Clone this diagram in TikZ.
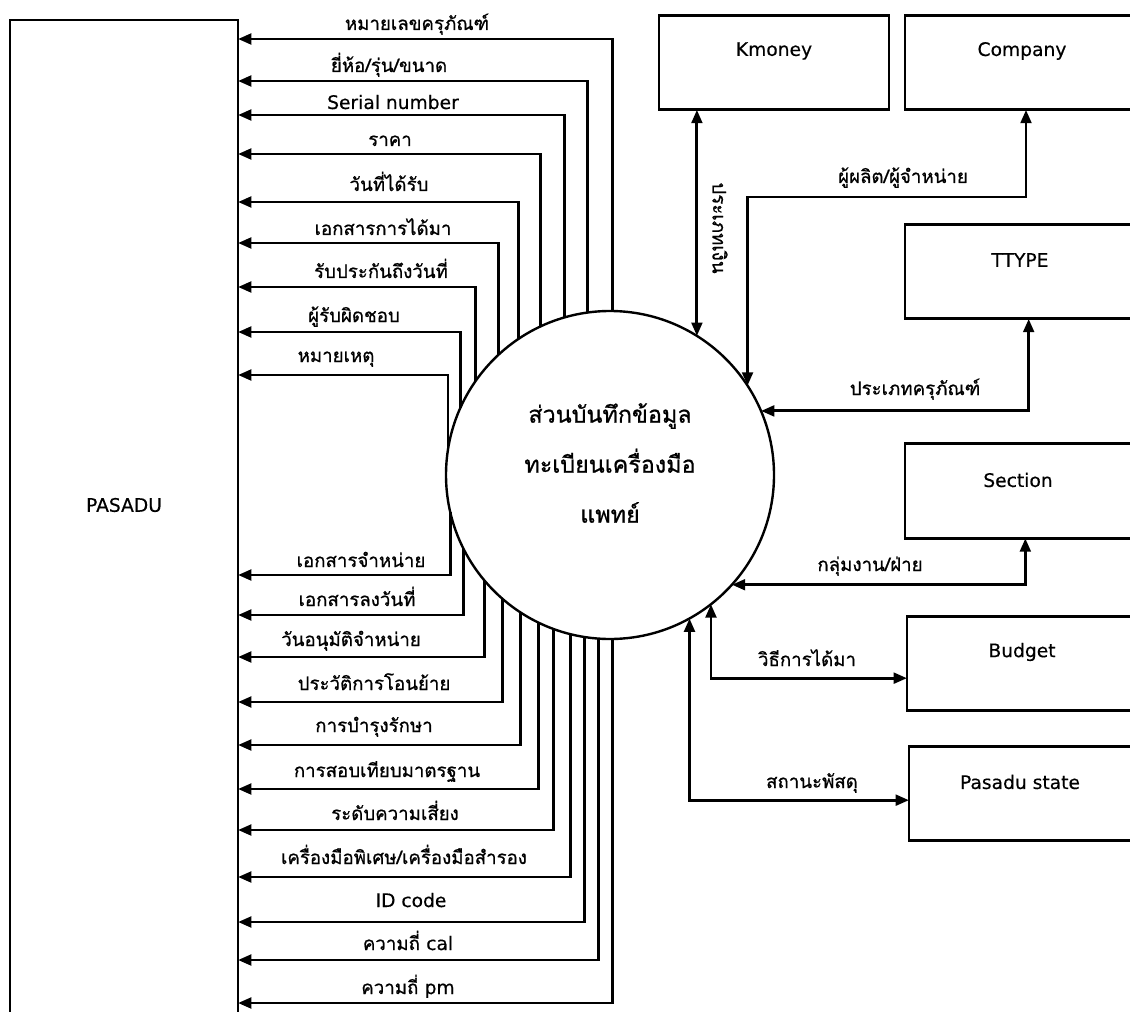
\documentclass[tikz,border=0pt]{standalone}
\usepackage{fontspec}
\setmainfont[Script=Thai,FakeBold=0.8]{Loma}
\newfontfamily\latfont[FakeBold=0.4]{DejaVu Sans}
\usetikzlibrary{arrows.meta}

\tikzset{every picture/.style={line width=2.2pt}}
\tikzset{
  entity/.style={draw, rectangle, minimum width=172.5pt, minimum height=71pt, inner sep=0pt, outer sep=0pt},
  flow/.style={-{Triangle[length=10pt,width=8pt]}},
  dflow/.style={{Triangle[length=10pt,width=8pt]}-{Triangle[length=10pt,width=8pt]}},
  lbl/.style={inner sep=0.75pt, font=\fontsize{14}{16}\selectfont},
  flowlbl/.style={lbl, anchor=base},
}

\begin{document}
\begin{tikzpicture}[x=0.75pt,y=0.75pt,yscale=-1,xscale=1]
\clip (0,0) rectangle (1130,1012);

%Shape: Rectangle [PASADU]
\node[entity, anchor=north west, minimum width=171pt, minimum height=765pt] (pasadu) at (10,20) {};
%Shape: Circle
\node[draw, circle, minimum size=246pt, inner sep=0pt, outer sep=0pt, line width=1.8pt] (circ) at (610,475) {};
%Shape: Rectangle
\node[entity] (kmoney) at (774,62.5) {};
%Shape: Rectangle
\node[entity] (company) at (1020,62.5) {};
%Shape: Rectangle
\node[entity] (ttype) at (1020,271.5) {};
%Shape: Rectangle
\node[entity] (section) at (1020,491) {};
%Shape: Rectangle
\node[entity] (budget) at (1022,663.5) {};
%Shape: Rectangle
\node[entity] (pstate) at (1024,793.5) {};

%Straight Lines
\draw[flow] (circ.89.3) |- (pasadu.east |- 0,39);
\draw[flow] (circ.98.1) |- (pasadu.east |- 0,81);
\draw[flow] (circ.106.7) |- (pasadu.east |- 0,115);
\draw[flow] (circ.115.3) |- (pasadu.east |- 0,154);
\draw[flow] (circ.124.1) |- (pasadu.east |- 0,202);
\draw[flow] (circ.133.6) |- (pasadu.east |- 0,243);
\draw[flow] (circ.145.4) |- (pasadu.east |- 0,287);
\draw[flow] (circ.156.2) |- (pasadu.east |- 0,332);
\draw[flow] (circ.171.1) |- (pasadu.east |- 0,375);
%Straight Lines
\draw[flow] (circ.-167.4) |- (pasadu.east |- 0,575);
\draw[flow] (circ.-153.6) |- (pasadu.east |- 0,615);
\draw[flow] (circ.-140.7) |- (pasadu.east |- 0,657);
\draw[flow] (circ.-131.2) |- (pasadu.east |- 0,702);
\draw[flow] (circ.-123.7) |- (pasadu.east |- 0,745);
\draw[flow] (circ.-116.4) |- (pasadu.east |- 0,789);
\draw[flow] (circ.-110.4) |- (pasadu.east |- 0,830);
\draw[flow] (circ.-104.8) |- (pasadu.east |- 0,877);
\draw[flow] (circ.-99.8) |- (pasadu.east |- 0,922);
\draw[flow] (circ.-94.5) |- (pasadu.east |- 0,960);
\draw[flow] (circ.-89.3) |- (pasadu.east |- 0,1003);

%Straight Lines
\draw[dflow] (circ.58.4 |- kmoney.south) -- (circ.58.4);
\draw[dflow] (circ.33.4) |- ([xshift=4.5pt]company.south |- 0,197) -- ([xshift=4.5pt]company.south);
\draw[dflow] ([xshift=6.5pt]ttype.south) |- (circ.23.7);
\draw[dflow] ([xshift=4pt]section.south) |- (circ.-42.1);
\draw[dflow] (circ.-52) |- ([yshift=11pt]budget.west);
\draw[dflow] (circ.-61.6) |- ([yshift=5pt]pstate.west);

% Text Node
\node[lbl] (pasadutxt) at (124,505) {\latfont PASADU};
% Text Node
\node[lbl, align=center, font=\fontsize{17.5}{37.5}\selectfont] (proctxt) at (610,463) {ส่วนบันทึกข้อมูล\\ทะเบียนเครื่องมือ\\แพทย์};
% Text Node
\node[lbl] (kmoneytxt) at (774,51) {\latfont Kmoney};
\node[lbl] (companytxt) at (1022,51) {\latfont Company};
\node[lbl] (ttypetxt) at (1020,260) {\latfont TTYPE};
\node[lbl] (sectiontxt) at (1018,480) {\latfont Section};
\node[lbl] (budgettxt) at (1022,652) {\latfont Budget};
\node[lbl] (pstatetxt) at (1020,782) {\latfont Pasadu state};
% Text Node
\node[flowlbl] (t1) at (417,30) {หมายเลขครุภัณฑ์};
\node[flowlbl] (t2) at (389,72) {ยี่ห้อ/รุ่น/ขนาด};
\node[flowlbl] (t3) at (393,109) {\latfont Serial number};
\node[flowlbl] (t4) at (390,146) {ราคา};
\node[flowlbl] (t5) at (389,191) {วันที่ได้รับ};
\node[flowlbl] (t6) at (383,235) {เอกสารการได้มา};
\node[flowlbl] (t7) at (381,278) {รับประกันถึงวันที่};
\node[flowlbl] (t8) at (354,322) {ผู้รับผิดชอบ};
\node[flowlbl] (t9) at (336,362) {หมายเหตุ};
\node[flowlbl] (t10) at (361,567) {เอกสารจำหน่าย};
\node[flowlbl] (t11) at (357,606) {เอกสารลงวันที่};
\node[flowlbl] (t12) at (351,646) {วันอนุมัติจำหน่าย};
\node[flowlbl] (t13) at (374,690) {ประวัติการโอนย้าย};
\node[flowlbl] (t14) at (374,732) {การบำรุงรักษา};
\node[flowlbl] (t15) at (387,777) {การสอบเทียบมาตรฐาน};
\node[flowlbl] (t16) at (395,820) {ระดับความเสี่ยง};
\node[flowlbl] (t17) at (404,864) {เครื่องมือพิเศษ/เครื่องมือสำรอง};
\node[flowlbl] (t18) at (411,907) {\latfont ID code};
\node[flowlbl] (t19) at (408,950) {ความถี่ {\latfont cal}};
\node[flowlbl] (t20) at (408,994) {ความถี่ {\latfont pm}};
% Text Node
\node[lbl] (moneytxt) at (720,228) [rotate=-90] {ประเภทเงิน};
\node[flowlbl] (makertxt) at (903,183) {ผู้ผลิต/ผู้จำหน่าย};
\node[flowlbl] (typetxt) at (915,395) {ประเภทครุภัณฑ์};
\node[flowlbl] (grouptxt) at (870,571) {กลุ่มงาน/ฝ่าย};
\node[flowlbl] (howtxt) at (807,666) {วิธีการได้มา};
\node[flowlbl] (statetxt) at (812,788) {สถานะพัสดุ};

\end{tikzpicture}
\end{document}
